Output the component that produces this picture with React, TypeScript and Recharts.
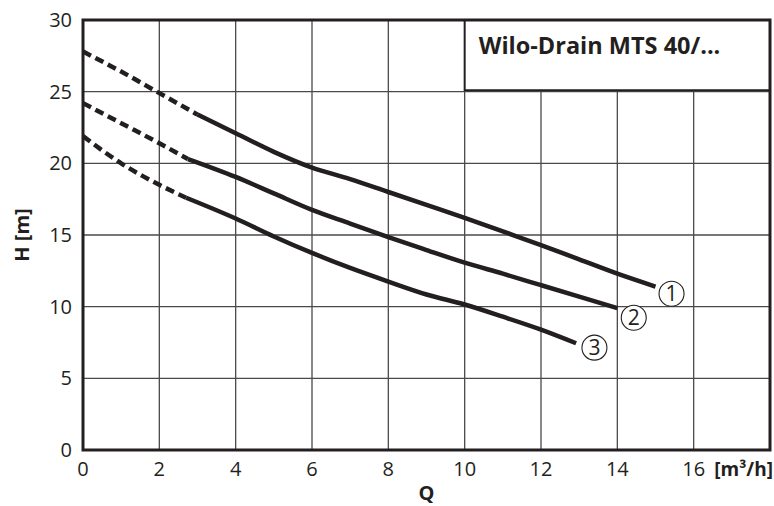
import React from 'react';
import {
  LineChart, Line, XAxis, YAxis, CartesianGrid,
  ReferenceArea, ReferenceDot, Label,
} from 'recharts';

// pump curves, Q [m³/h] vs H [m]
const X_TICKS = [0, 2, 4, 6, 8, 10, 12, 14, 16, 18];
const Y_TICKS = [0, 5, 10, 15, 20, 25, 30];

const q1Dash = [0, 1, 2, 3];
const h1Dash = [27.8, 26.4, 24.9, 23.4];
const q1 = [3, 4, 5, 6, 7, 8, 9, 10, 11, 12, 13, 14, 15];
const h1 = [23.4, 22.1, 20.8, 19.7, 18.9, 18.0, 17.1, 16.2, 15.25, 14.3, 13.3, 12.3, 11.4];

const q2Dash = [0, 1, 2, 2.75];
const h2Dash = [24.2, 22.8, 21.4, 20.3];
const q2 = [2.75, 4, 5, 6, 7, 8, 9, 10, 11, 12, 13, 14];
const h2 = [20.3, 19.05, 17.9, 16.75, 15.8, 14.85, 13.95, 13.07, 12.3, 11.5, 10.7, 9.9];

const q3Dash = [0, 1, 2, 2.7];
const h3Dash = [21.9, 20.0, 18.5, 17.6];
const q3 = [2.7, 4, 5, 6, 7, 8, 9, 10, 11, 12, 12.92];
const h3 = [17.6, 16.15, 14.9, 13.75, 12.7, 11.75, 10.85, 10.15, 9.3, 8.4, 7.45];

// curve numbers next to the line ends
const markers = [
  { id: '1', q: 15.42, h: 10.9 },
  { id: '2', q: 14.43, h: 9.23 },
  { id: '3', q: 13.4, h: 7.14 },
];

const TITLE = 'Wilo-Drain MTS 40/...';

const INK = '#231f20';
const FONT = '"Open Sans", "Noto Sans", sans-serif';

const toPoints = (q: number[], h: number[]) => q.map((v, i) => ({ q: v, h: h[i] }));

const series = [
  { key: 'c1d', data: toPoints(q1Dash, h1Dash), dashed: true },
  { key: 'c1', data: toPoints(q1, h1), dashed: false },
  { key: 'c2d', data: toPoints(q2Dash, h2Dash), dashed: true },
  { key: 'c2', data: toPoints(q2, h2), dashed: false },
  { key: 'c3d', data: toPoints(q3Dash, h3Dash), dashed: true },
  { key: 'c3', data: toPoints(q3, h3), dashed: false },
];

const XTick = (props: any) => {
  const { x, y, payload } = props;
  if (payload.value === 18) {
    return (
      <text x={x + 3} y={y} dy={24} textAnchor="end" fill={INK}
        fontFamily={FONT} fontSize={19} fontWeight="bold">
        [m³/h]
      </text>
    );
  }
  return (
    <text x={x} y={y} dy={24} textAnchor="middle" fill={INK}
      fontFamily={FONT} fontSize={20}>
      {payload.value}
    </text>
  );
};

const YTick = (props: any) => {
  const { x, y, payload } = props;
  return (
    <text x={x - 9} y={y} dy={7} textAnchor="end" fill={INK}
      fontFamily={FONT} fontSize={20}>
      {payload.value}
    </text>
  );
};

const TitleLabel = (props: any) => {
  const vb = props.viewBox || { x: 0, y: 0 };
  return (
    <text x={vb.x + 14} y={vb.y + 34} fill={INK} fontFamily={FONT}
      fontSize={23.5} fontWeight="bold">
      {TITLE}
    </text>
  );
};

export default function App() {
  return (
    <div style={{ position: 'absolute', left: 0, top: 0, width: 774, height: 506, background: '#fff' }}>
      <LineChart width={774} height={506} margin={{ top: 20, right: 4, left: 0, bottom: 0 }}>
        <CartesianGrid stroke="#4a4a4a" strokeWidth={1.3} horizontalValues={Y_TICKS} verticalValues={X_TICKS} />
        <XAxis
          type="number"
          dataKey="q"
          domain={[0, 18]}
          ticks={X_TICKS}
          interval={0}
          height={56}
          axisLine={false}
          tickLine={false}
          tickSize={0}
          tick={<XTick />}
        >
          <Label value="Q" position="insideBottom" offset={6} fill={INK}
            fontFamily={FONT} fontSize={20} fontWeight="bold" />
        </XAxis>
        <YAxis
          type="number"
          dataKey="h"
          domain={[0, 30]}
          ticks={Y_TICKS}
          interval={0}
          width={83}
          axisLine={false}
          tickLine={false}
          tickSize={0}
          tick={<YTick />}
        >
          <Label value="H [m]" angle={-90} position="insideLeft" offset={22} fill={INK}
            fontFamily={FONT} fontSize={20} fontWeight="bold" style={{ textAnchor: 'middle' }} />
        </YAxis>
        <ReferenceArea x1={10} x2={18} y1={25.1} y2={30} fill="#fff" fillOpacity={1}
          stroke={INK} strokeWidth={2} ifOverflow="visible" label={TitleLabel} />
        {series.map((s) => (
          <Line
            key={s.key}
            data={s.data}
            dataKey="h"
            type="monotone"
            stroke={INK}
            strokeWidth={4.5}
            strokeDasharray={s.dashed ? '9 5' : undefined}
            dot={false}
            activeDot={false}
            isAnimationActive={false}
          />
        ))}
        <ReferenceArea x1={0} x2={18} y1={0} y2={30} fill="none" stroke={INK}
          strokeWidth={3} ifOverflow="visible" />
        {markers.map((m) => (
          <ReferenceDot key={m.id} x={m.q} y={m.h} r={12.5} fill="#fff" stroke={INK}
            strokeWidth={1.1} ifOverflow="visible">
            <Label value={m.id} position="center" fill={INK} fontFamily={FONT} fontSize={21} />
          </ReferenceDot>
        ))}
      </LineChart>
    </div>
  );
}
